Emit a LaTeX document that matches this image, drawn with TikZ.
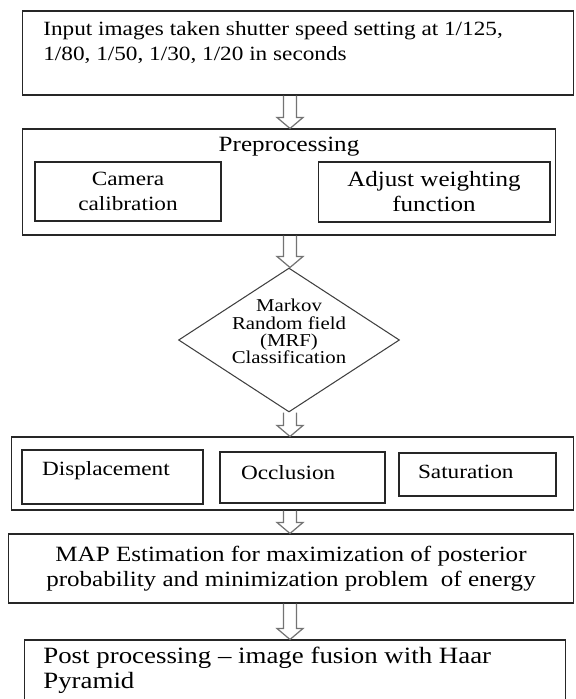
\documentclass[tikz,border=0pt]{standalone}
\usepackage{fontspec}
\setmainfont{Liberation Serif}[FakeStretch=1.15]
\usepackage{tikz}
\usetikzlibrary{calc, shapes.geometric}

% hollow block arrow pointing down, from #1 to the tip #2
\newcommand{\hollowdown}[2]{%
  \draw[arrowline] ($(#1)+(-6.5,0)$) -- ($(#2)+(-6.5,-11)$) -- ($(#2)+(-13,-11)$)
    -- (#2) -- ($(#2)+(13,-11)$) -- ($(#2)+(6.5,-11)$) -- ($(#1)+(6.5,0)$);}

\begin{document}
\begin{tikzpicture}[x=0.02cm, y=-0.02cm,
    box/.style={draw=black!85, line width=0.6pt, inner sep=0pt},
    txt/.style={font=\fontsize{11.5}{14.2}\selectfont, inner sep=0pt},
    bigtxt/.style={font=\fontsize{12.4}{14.2}\selectfont, inner sep=0pt},
    arrowline/.style={draw=black!55, line width=0.7pt, line join=miter}]

\useasboundingbox (0,0) rectangle (575,699);
\coordinate (ax) at (290,0);

% Input images
\node[box, minimum width=11.03cm, minimum height=1.68cm] (in) at (297.75,53) {};
\node[txt, anchor=west, align=left] (intxt) at (43,42.5)
    {Input images taken shutter speed setting at 1/125,\\1/80, 1/50, 1/30, 1/20 in seconds};

% Preprocessing
\node[box, minimum width=10.68cm, minimum height=2.12cm] (pre) at (289,182) {};
\node[bigtxt] (pretxt) at (289,147) {Preprocessing};
\node[box, txt, minimum width=3.72cm, minimum height=1.18cm, align=center] (cam) at (128,191.5)
    {Camera\\calibration};
\node[box, bigtxt, minimum width=4.64cm, minimum height=1.2cm, align=center] (adj) at (434,192)
    {Adjust weighting\\function};

% MRF classification
\node[draw=black!75, line width=0.6pt, shape=diamond, inner sep=0pt,
    minimum width=4.42cm, minimum height=2.88cm] (mrf) at (289,340) {};
\node[align=center, inner sep=0pt, font=\fontsize{10.3}{9.8}\selectfont] (mrftxt) at (289,331.5)
    {Markov\\Random field\\(MRF)\\Classification};

% Classes
\node[box, minimum width=11.26cm, minimum height=1.46cm] (cls) at (292.5,473.5) {};
\node[box, txt, minimum width=3.62cm, minimum height=1.08cm, text width=2.82cm, align=left,
    text depth=0.36cm] (disp) at (112.5,477) {Displacement};
\node[box, txt, minimum width=3.3cm, minimum height=1.02cm, text width=2.46cm, align=left,
    text depth=0.2cm] (occ) at (302.5,477.5) {Occlusion};
\node[box, txt, minimum width=3.14cm, minimum height=0.86cm, text width=2.38cm, align=left,
    text depth=0.1cm] (sat) at (477.5,474.5) {Saturation};

% MAP estimation
\node[box, bigtxt, minimum width=11.32cm, minimum height=1.38cm, align=center] (map) at (291,568.5)
    {MAP Estimation for maximization of posterior\\probability and minimization problem\ \ of energy};

% Post processing
\node[box, minimum width=10.84cm, minimum height=1.4cm] (post) at (295,675) {};
\node[anchor=west, align=left, inner sep=0pt, font=\fontsize{13.3}{14.2}\selectfont] (posttxt)
    at (43,670.5) {Post processing -- image fusion with Haar\\Pyramid};

% Arrows
\hollowdown{in.south -| ax}{pre.north -| ax}
\hollowdown{pre.south -| ax}{mrf.north -| ax}
\hollowdown{mrf.south -| ax}{cls.north -| ax}
\hollowdown{cls.south -| ax}{map.north -| ax}
\hollowdown{map.south -| ax}{post.north -| ax}

\end{tikzpicture}
\end{document}
